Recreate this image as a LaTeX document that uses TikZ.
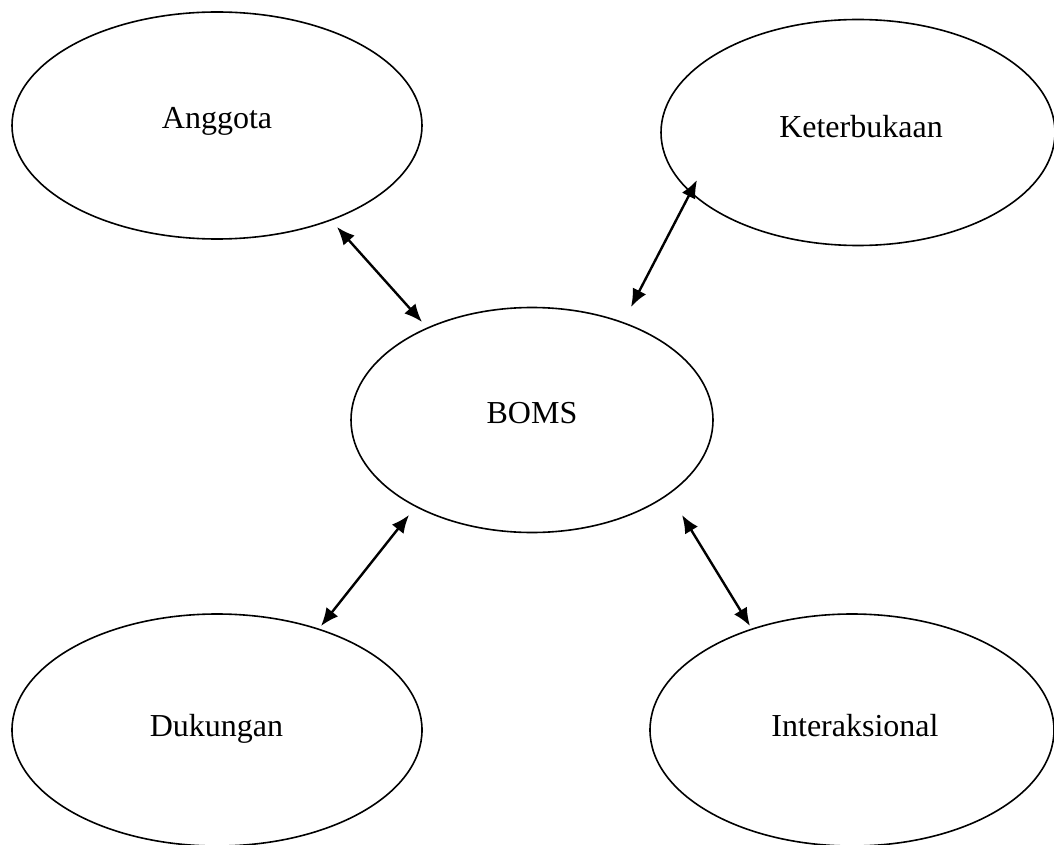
\documentclass[tikz,border=0pt]{standalone}
\usepackage{fontspec}
\setmainfont{Liberation Serif}
\usetikzlibrary{shapes.geometric,arrows.meta}
\begin{document}
\begin{tikzpicture}[x=0.5pt,y=-0.5pt,
  oval/.style={draw, ellipse, line width=0.8pt, inner sep=0pt},
  lbl/.style={anchor=base, inner sep=0pt, font=\fontsize{16pt}{19pt}\selectfont},
  link/.style={line width=1.2pt, {Latex[length=9pt,width=7.5pt]}-{Latex[length=9pt,width=7.5pt]}}]
\useasboundingbox (0,0) rectangle (1054,845);
\clip (0,0) rectangle (1054,845);
\node[oval, minimum width=205pt, minimum height=113.5pt] (ang) at (217,125.5) {};
\node[oval, minimum width=197pt, minimum height=113pt] (ket) at (858,132.5) {};
\node[oval, minimum width=181pt, minimum height=112.5pt] (boms) at (532,420) {};
\node[oval, minimum width=205pt, minimum height=116pt] (duk) at (217,730) {};
\node[oval, minimum width=202pt, minimum height=116pt] (int) at (852,730) {};
\node[lbl] (tang) at (217,129) {Anggota};
\node[lbl] (tket) at (861,138) {Keterbukaan};
\node[lbl] (tboms) at (532,423) {BOMS};
\node[lbl] (tduk) at (216.5,736) {Dukungan};
\node[lbl] (tint) at (855,736) {Interaksional};
\coordinate (a1) at (337,227);
\coordinate (a2) at (422,322);
\coordinate (k1) at (697,180);
\coordinate (k2) at (631,307);
\coordinate (d1) at (409,515);
\coordinate (d2) at (321,626);
\coordinate (i1) at (682,515);
\coordinate (i2) at (750,626);
\draw[link] (a1) -- (a2);
\draw[link] (k1) -- (k2);
\draw[link] (d1) -- (d2);
\draw[link] (i1) -- (i2);
\end{tikzpicture}
\end{document}
